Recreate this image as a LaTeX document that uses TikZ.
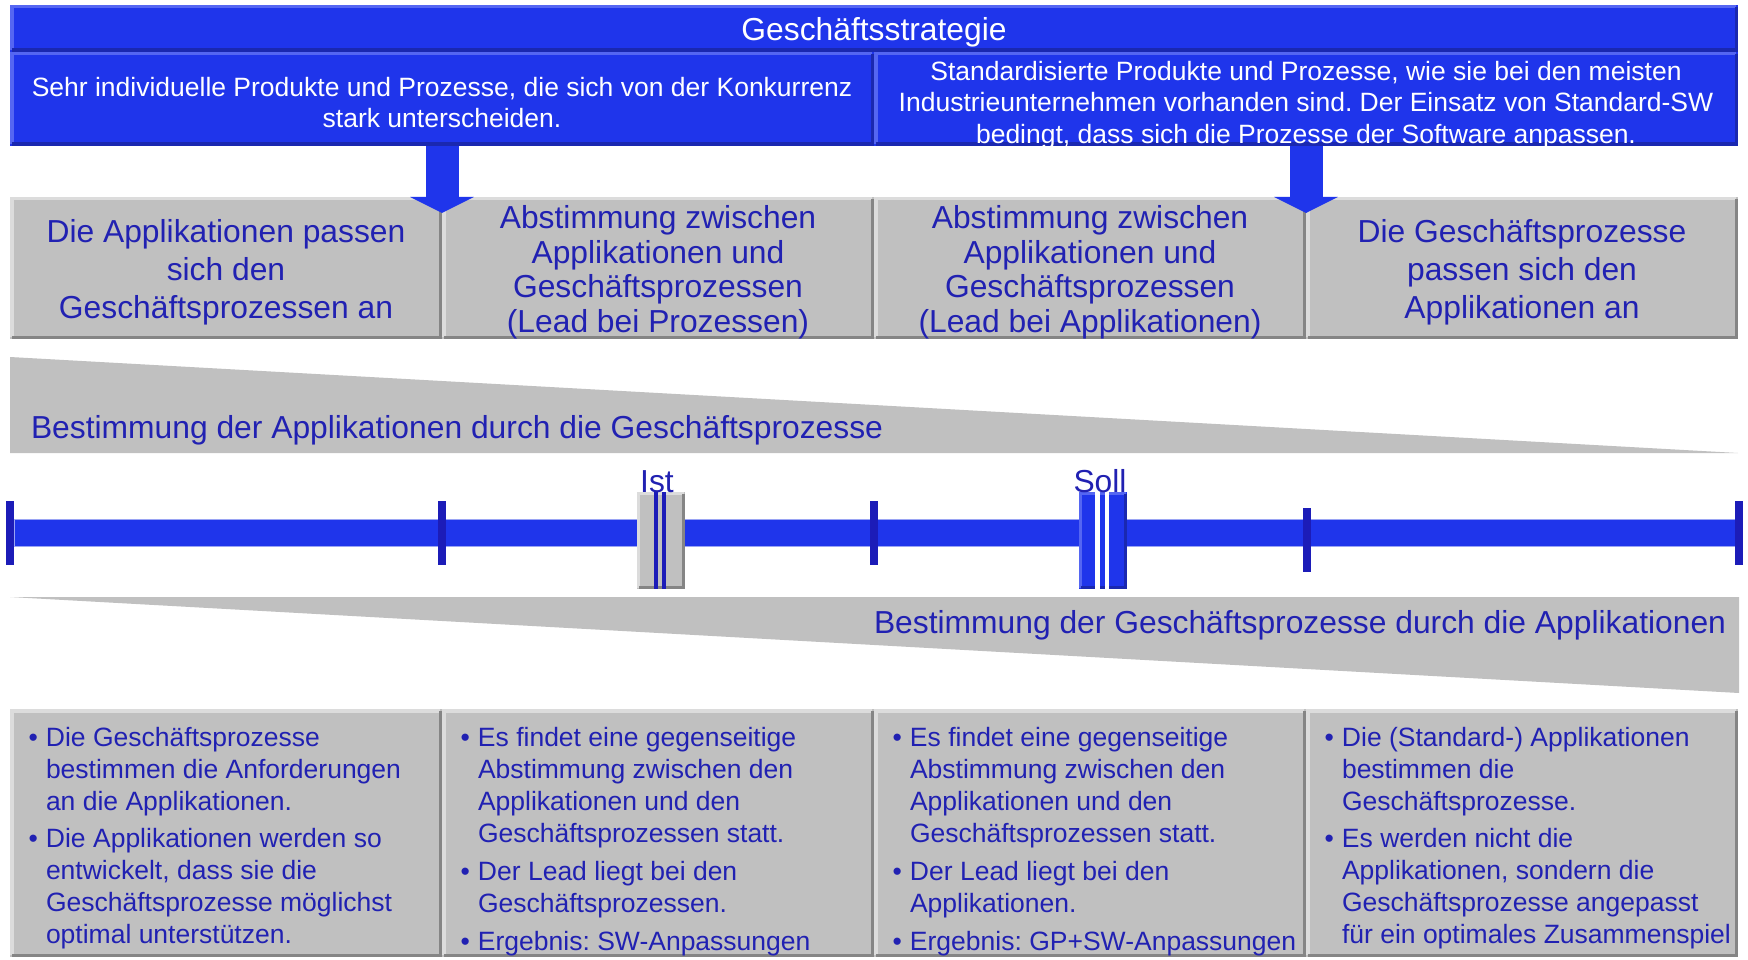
\documentclass[tikz,border=0pt]{standalone}
\usepackage{fontspec}
\setmainfont{Liberation Sans}
\usetikzlibrary{arrows.meta}
\definecolor{mblue}{HTML}{1F35EB}
\definecolor{mbluelight}{HTML}{5566F2}
\definecolor{mbluedark}{HTML}{1A28B0}
\definecolor{barline}{HTML}{9AA4F4}
\definecolor{tblue}{HTML}{2121B2}
\definecolor{tickblue}{HTML}{1C1CB8}
\definecolor{mgray}{HTML}{C0C0C0}
\definecolor{glight}{HTML}{DCDCDC}
\definecolor{gdark}{HTML}{858585}
\newcommand\mybevel[4]{%
  \draw[line width=#4, #2] ([shift={(#4/2,-#4/2)}]#1.south west) |- ([shift={(-#4/2,#4/2)}]#1.north east);
  \draw[line width=#4, #3] ([shift={(#4/2,-#4/2)}]#1.south west) -| ([shift={(-#4/2,#4/2)}]#1.north east);
}
\newcommand\bitem{\llap{\textbullet\hspace{8pt}}}
\newcommand\fbig{\fontsize{31.8}{38}\selectfont}
\frenchspacing
\begin{document}
\begin{tikzpicture}[x=1pt,y=-1pt,
  every node/.style={inner sep=0pt, outer sep=0pt},
  box/.style 2 args={minimum width=#1, minimum height=#2, anchor=north west},
  bluebox/.style={fill=mblue},
  graybox/.style={fill=mgray},
  wtext/.style={text=white, align=center, text depth=0pt, font={\fontsize{26.5}{31.5}\selectfont}},
  gtext/.style={text=tblue, align=center, text depth=0pt, font={\fontsize{31.8}{#1}\selectfont}},
  tick/.style={fill=tickblue, minimum width=8, minimum height=64},
  bigarrow/.style={draw=mblue, line width=33, -{Triangle[width=63pt,length=16pt]}},
  bullets/.style={anchor=north west, text=tblue, align=left, font=\fontsize{26.5}{32}\selectfont},
]
\useasboundingbox[fill=white] (0,0) rectangle (1748,960);

% top strategy boxes
\node[bluebox, box={1728}{47}, text=white, text depth=0pt, font=\fbig] (title) at (10,5) {Geschäftsstrategie};
\node[bluebox, box={864}{94}] (s1) at (10,52) {};
\node[bluebox, box={864}{94}] (s2) at (874,52) {};

% gray level boxes
\node[graybox, box={432}{142}] (g1) at (10,197) {};
\node[graybox, box={432}{142}] (g2) at (442,197) {};
\node[graybox, box={432}{142}] (g3) at (874,197) {};
\node[graybox, box={432}{142}] (g4) at (1306,197) {};
\foreach \n in {g1,g2,g3,g4} {\mybevel{\n}{glight}{gdark}{3.5}}
\node[gtext=38] (g1t) at ([shift={(0,1.2)}]g1.center) {Die Applikationen passen\\sich den\\Geschäftsprozessen an};
\node[gtext=34.5] (g2t) at ([shift={(0,1.2)}]g2.center) {Abstimmung zwischen\\Applikationen und\\Geschäftsprozessen\\(Lead bei Prozessen)};
\node[gtext=34.5] (g3t) at ([shift={(0,1.2)}]g3.center) {Abstimmung zwischen\\Applikationen und\\Geschäftsprozessen\\(Lead bei Applikationen)};
\node[gtext=38] (g4t) at ([shift={(0,1.2)}]g4.center) {Die Geschäftsprozesse\\passen sich den\\Applikationen an};

% arrows
\coordinate (tip1) at (442,213);
\coordinate (tip2) at (1306,213);
\draw[bigarrow] (s1.south) -- (tip1);
\draw[bigarrow] (s2.south) -- (tip2);
\foreach \n in {title,s1,s2} {\mybevel{\n}{mbluelight}{mbluedark}{3.5}}
\node[wtext] (s1t) at ([shift={(0,3.3)}]s1.center) {Sehr individuelle Produkte und Prozesse, die sich von der Konkurrenz\\stark unterscheiden.};
\node[wtext] (s2t) at ([shift={(0,3)}]s2.center) {Standardisierte Produkte und Prozesse, wie sie bei den meisten\\Industrieunternehmen vorhanden sind. Der Einsatz von Standard-SW\\bedingt, dass sich die Prozesse der Software anpassen.};

% wedges
\fill[mgray] (10,357) -- (1738,453) -- (10,453) -- cycle;
\node[anchor=base west, text=tblue, font=\fbig] (w1) at (31,438) {Bestimmung der Applikationen durch die Geschäftsprozesse};
\fill[mgray] (10,597) -- (1739,597) -- (1739,693) -- cycle;
\node[anchor=base east, text=tblue, font=\fbig] (w2) at (1726,633) {Bestimmung der Geschäftsprozesse durch die Applikationen};

% timeline
\node[box={1721}{27}, fill=mblue, draw=barline, line width=1] (bar) at (14,519) {};
\node[tick] (t1) at (10,533) {};
\node[tick] (t2) at (442,533) {};
\node[tick] (t3) at (874,533) {};
\node[tick] (t4) at (1307,540) {};
\node[tick] (t5) at (1739,533) {};

% Ist / Soll markers
\node[box={48}{97}, fill=mgray] (ist) at (637,492) {};
\mybevel{ist}{glight}{gdark}{3}
\fill[tickblue] (654,492) rectangle (658,589);
\fill[tickblue] (662,492) rectangle (666,589);
\node[box={48}{97}, fill=mblue] (soll) at (1079,492) {};
\mybevel{soll}{mbluelight}{mbluedark}{3}
\fill[white] (1095,492) rectangle (1100,589);
\fill[white] (1105,492) rectangle (1109,589);
\node[anchor=base, text=tblue, font=\fbig] (istl) at (657,492) {Ist};
\node[anchor=base, text=tblue, font=\fbig] (solll) at (1100,492) {Soll};

% bottom description boxes
\node[fill=mgray, box={432}{248}] (b1) at (10,709) {};
\node[fill=mgray, box={432}{248}] (b2) at (442,709) {};
\node[fill=mgray, box={432}{248}] (b3) at (874,709) {};
\node[fill=mgray, box={432}{248}] (b4) at (1306,709) {};
\foreach \n in {b1,b2,b3,b4} {\mybevel{\n}{glight}{gdark}{3.5}}

\node[bullets] (b1t) at (46,727) {\bitem Die Geschäftsprozesse\\bestimmen die Anforderungen\\an die Applikationen.\\[5pt]\bitem Die Applikationen werden so\\entwickelt, dass sie die\\Geschäftsprozesse möglichst\\optimal unterstützen.};
\node[bullets] (b2t) at (478,727) {\bitem Es findet eine gegenseitige\\Abstimmung zwischen den\\Applikationen und den\\Geschäftsprozessen statt.\\[6pt]\bitem Der Lead liegt bei den\\Geschäftsprozessen.\\[6pt]\bitem Ergebnis: SW-Anpassungen};
\node[bullets] (b3t) at (910,727) {\bitem Es findet eine gegenseitige\\Abstimmung zwischen den\\Applikationen und den\\Geschäftsprozessen statt.\\[6pt]\bitem Der Lead liegt bei den\\Applikationen.\\[6pt]\bitem Ergebnis: GP+SW-Anpassungen};
\node[bullets] (b4t) at (1342,727) {\bitem Die (Standard-) Applikationen\\bestimmen die\\Geschäftsprozesse.\\[5pt]\bitem Es werden nicht die\\Applikationen, sondern die\\Geschäftsprozesse angepasst\\für ein optimales Zusammenspiel};
\end{tikzpicture}
\end{document}
